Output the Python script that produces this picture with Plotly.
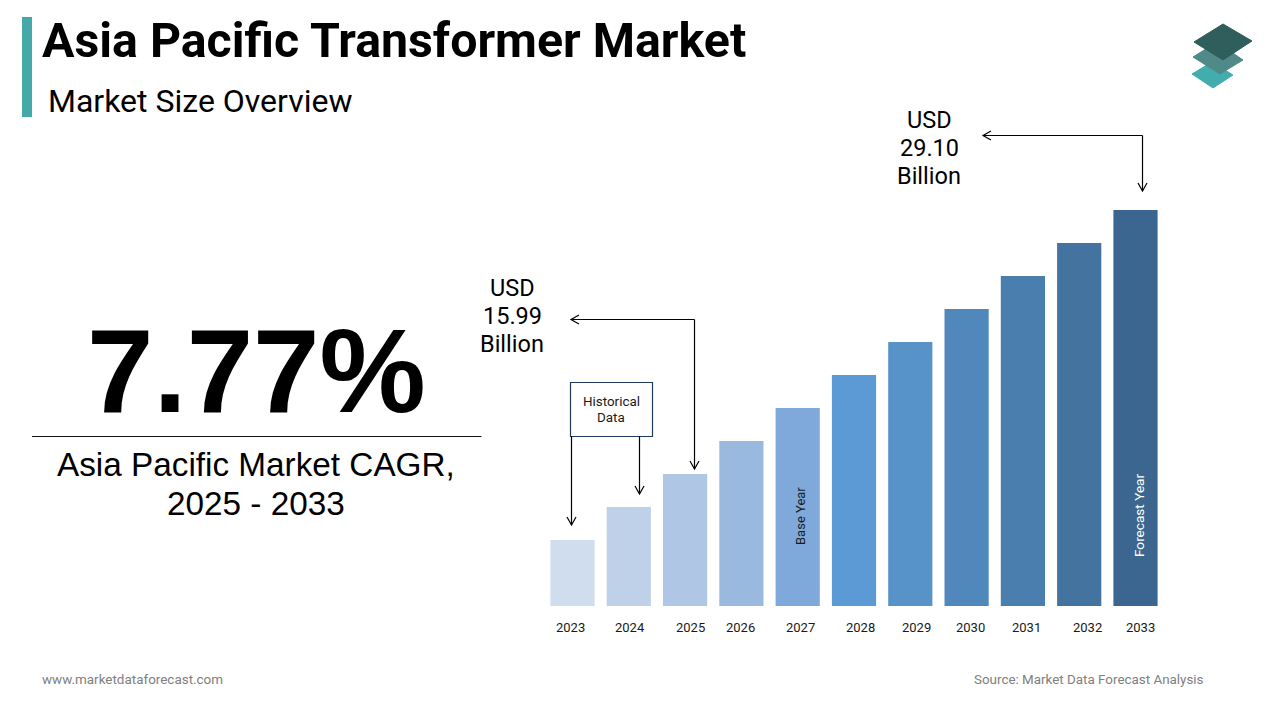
# Asia Pacific Transformer Market slide.
import plotly.graph_objects as go

W, H = 1280, 720

# Data (bar heights are relative, the slide has no y axis).
years = [2023, 2024, 2025, 2026, 2027, 2028, 2029, 2030, 2031, 2032, 2033]
bar_heights = [66, 99, 132, 165, 198, 231, 264, 297, 330, 363, 396]
bar_colors = ["#D0DDEE", "#BFD1E9", "#AFC7E4", "#99B9DF", "#7FA9DA", "#5B9AD5",
              "#5792C8", "#5088BC", "#4A7EAE", "#4473A0", "#3A668F"]
tick_labels = ["2023", "2024", "2025", "2026", "2027", "2028", "2029", "2030", "2031", "2032", "2033"]
tick_px = [570.3, 630.3, 690.3, 740.3, 800.3, 860.3, 916.3, 970.3, 1026.3, 1087.3, 1140.3]


def px(x):
    return x / W


def py(y):
    return 1 - y / H


def label(x, y, text, size, color="#000000", family="Roboto", angle=0):
    return dict(x=px(x), y=py(y), xref="paper", yref="paper", text=text, showarrow=False,
                xanchor="center", yanchor="middle", align="center", textangle=angle,
                font=dict(size=size, color=color, family=family))


def path_shape(points, close=False, fill=None, line="#000000", width=1.2):
    d = "M " + " L ".join(f"{px(a):.5f},{py(b):.5f}" for a, b in points)
    if close:
        d += " Z"
    s = dict(type="path", path=d, xref="paper", yref="paper", line=dict(color=line, width=width))
    if fill:
        s["fillcolor"] = fill
    return s


def rect(x0, y0, x1, y1, fill=None, line=None, width=0):
    s = dict(type="rect", xref="paper", yref="paper", x0=px(x0), x1=px(x1), y0=py(y0), y1=py(y1),
             line=dict(color=line or "rgba(0,0,0,0)", width=width))
    if fill:
        s["fillcolor"] = fill
    return s


# Open arrow heads for the callouts.
def arrow_down(x, y0, y1):
    return [path_shape([(x, y0), (x, y1)]),
            path_shape([(x - 4.5, y1 - 8), (x, y1), (x + 4.5, y1 - 8)])]


def arrow_left(y, x0, x1):
    return [path_shape([(x0, y), (x1, y)]),
            path_shape([(x1 + 8, y - 4.5), (x1, y), (x1 + 8, y + 4.5)])]


fig = go.Figure(go.Bar(x=years, y=bar_heights, width=0.785, marker=dict(color=bar_colors, line_width=0),
                       hoverinfo="x"))

shapes = [
    rect(22, 17, 32, 117, fill="#45A9A9"),
    path_shape([(32, 436.5), (481.5, 436.5)], line="#111111", width=1),
    rect(570.5, 382.5, 652.5, 436.5, fill="#FFFFFF", line="#1F3A5F", width=1.2),
    # logo
    path_shape([(1192, 74), (1212, 62), (1233, 75), (1213, 88)], close=True, fill="#42ADAD", line="#42ADAD", width=1),
    path_shape([(1193, 57), (1217, 42), (1243, 60), (1220, 74)], close=True, fill="#4F8A88", line="#4F8A88", width=1),
    path_shape([(1194, 42), (1223, 24), (1252, 41), (1223, 60)], close=True, fill="#2F5E5C", line="#2F5E5C", width=1),
]
shapes += arrow_down(571.5, 436, 525)
shapes += arrow_down(639.5, 436, 494)
shapes += arrow_down(694.5, 319.5, 469)
shapes += arrow_left(319.5, 694.5, 571)
shapes += arrow_down(1142.5, 135.5, 191)
shapes += arrow_left(135.5, 1142.5, 983)

annotations = [
    dict(x=px(40), y=py(40), xref="paper", yref="paper", text="<b>Asia Pacific Transformer Market</b>",
         showarrow=False, xanchor="left", yanchor="middle", font=dict(size=48.3, color="#000000", family="Roboto")),
    dict(x=px(46), y=py(101), xref="paper", yref="paper", text="Market Size Overview",
         showarrow=False, xanchor="left", yanchor="middle", font=dict(size=32, color="#000000", family="Roboto")),
    label(256, 371, "<b>7.77%</b>", 119.5, family="Liberation Sans"),
    label(255.5, 464, "Asia Pacific Market CAGR,", 33.3, family="Liberation Sans"),
    label(255.5, 504, "2025 - 2033", 33.3, family="Liberation Sans"),
    label(512, 288, "USD", 23.5),
    label(512, 316, "15.99", 23.5),
    label(512, 344, "Billion", 23.5),
    label(929, 120, "USD", 23.5),
    label(929, 148, "29.10", 23.5),
    label(929, 176, "Billion", 23.5),
    label(611, 401.5, "Historical", 13.4, color="#1A1A1A"),
    label(611, 417.5, "Data", 13.4, color="#1A1A1A"),
    label(800, 516, "Base Year", 13, color="#1A1A1A", angle=-90),
    label(1139, 516, "Forecast Year", 13.6, color="#FFFFFF", angle=-90),
    dict(x=px(40), y=py(679), xref="paper", yref="paper", text="www.marketdataforecast.com", showarrow=False,
         xanchor="left", yanchor="middle", font=dict(size=13.45, color="#808080", family="Roboto")),
    dict(x=px(1206), y=py(679), xref="paper", yref="paper", text="Source: Market Data Forecast Analysis", showarrow=False,
         xanchor="right", yanchor="middle", font=dict(size=13.4, color="#808080", family="Roboto")),
]
for t, x in zip(tick_labels, tick_px):
    annotations.append(label(x, 627.5, t, 13, color="#1A1A1A"))

# Plot area pinned so a year step is 56.3 px and 2023 sits at x=572.5.
step = 56.3
x_left, x_right = 540, 1170
fig.update_layout(
    width=W, height=H, margin=dict(l=0, r=0, t=0, b=0),
    paper_bgcolor="#FFFFFF", plot_bgcolor="#FFFFFF", showlegend=False,
    xaxis=dict(domain=[px(x_left), px(x_right)],
               range=[2023 - (572.5 - x_left) / step, 2023 + (x_right - 572.5) / step],
               visible=False),
    yaxis=dict(domain=[py(606), py(200)], range=[0, 406], visible=False),
    shapes=shapes, annotations=annotations,
)

fig.write_html("out.html", config={"displayModeBar": False},
               post_script="document.body.style.margin='0';")
